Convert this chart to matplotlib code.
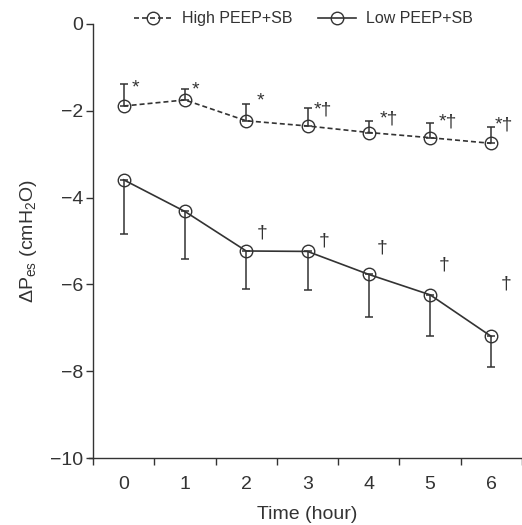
import numpy as np
import matplotlib
matplotlib.use('Agg')
import matplotlib.pyplot as plt

plt.rcParams['font.family'] = ['Liberation Sans', 'DejaVu Sans']
plt.rcParams['mathtext.default'] = 'regular'

# data
hours = [0, 1, 2, 3, 4, 5, 6]
high_mean = [-1.89, -1.75, -2.23, -2.35, -2.50, -2.62, -2.75]
high_sd = [0.51, 0.25, 0.39, 0.41, 0.27, 0.35, 0.38]
low_mean = [-3.59, -4.32, -5.23, -5.24, -5.77, -6.24, -7.20]
low_sd = [1.26, 1.09, 0.87, 0.89, 0.97, 0.96, 0.70]

high_marks = ['*', '*', '*', '*\u2020', '*\u2020', '*\u2020', '*\u2020']
low_marks = ['', '', '\u2020', '\u2020', '\u2020', '\u2020', '\u2020']

# annotation offsets (pixels)
high_off = [(8, -4), (7, -1), (10, 3), (6, -2), (11, 2), (9, 1), (3, 2)]
low_off = [(0, 0), (0, 0), (10, 18), (11, 10), (8, 26), (9, 30), (9, 52)]

col = '#333333'

fig = plt.figure(figsize=(5.22, 5.25), dpi=100)
ax = fig.add_axes([93/522, 1-458/525, 1-93/522, (458-24)/525])

hi = np.array(high_mean)
lo = np.array(low_mean)
ax.errorbar(hours, hi, yerr=[np.zeros(7), high_sd], fmt='none', ecolor=col,
            elinewidth=1.1, capsize=3, capthick=1.1)
ax.errorbar(hours, lo, yerr=[low_sd, np.zeros(7)], fmt='none', ecolor=col,
            elinewidth=1.1, capsize=3, capthick=1.1)
ax.plot(hours, hi, color=col, lw=1.2, dashes=(3, 1.8), marker='o', ms=9,
        mfc='none', mec=col, mew=1.0, label='High PEEP+SB')
ax.plot(hours, lo, color=col, lw=1.2, marker='o', ms=9,
        mfc='none', mec=col, mew=1.0, label='Low PEEP+SB')

for x, m, s, t, o in zip(hours, hi, high_sd, high_marks, high_off):
    ax.annotate(t, (x, m + s), xytext=o, textcoords='offset pixels',
                ha='left', va='center', fontsize=14, color=col)
for x, m, t, o in zip(hours, lo, low_marks, low_off):
    if t:
        ax.annotate(t, (x, m), xytext=o, textcoords='offset pixels',
                    ha='left', va='center', fontsize=14, color=col)

ax.set_xlim(-0.5, 6.5)
ax.set_ylim(-10, 0)
ax.set_yticks([0, -2, -4, -6, -8, -10])
ax.set_yticklabels(['0', '\u22122', '\u22124', '\u22126', '\u22128', '\u221210'])
ax.set_xticks(hours)
ax.set_xticklabels([str(h) for h in hours])
ax.set_xticks(np.arange(-0.5, 7, 1), minor=True)
ax.tick_params(axis='x', which='major', length=0, pad=13, labelsize=14, colors=col)
ax.tick_params(axis='x', which='minor', length=5, width=1, color=col)
ax.tick_params(axis='y', length=5, width=1, labelsize=14, colors=col, pad=2)

for s in ['top', 'right']:
    ax.spines[s].set_visible(False)
for s in ['left', 'bottom']:
    ax.spines[s].set_color(col)
    ax.spines[s].set_linewidth(1.0)
ax.spines['bottom'].set_bounds(-0.56, 6.5)

ax.set_xlabel('Time (hour)', fontsize=14, color=col, labelpad=9)
ax.set_ylabel('\u0394P$_{es}$ (cmH$_2$O)', fontsize=14, color=col, labelpad=8)

ax.legend(loc='center', bbox_to_anchor=(0.49, 1.012), ncol=2, frameon=False,
          fontsize=11.5, handlelength=2.4, handletextpad=0.6, columnspacing=1.6,
          borderpad=0, labelcolor=col)

fig.savefig('out.png', dpi=100)
